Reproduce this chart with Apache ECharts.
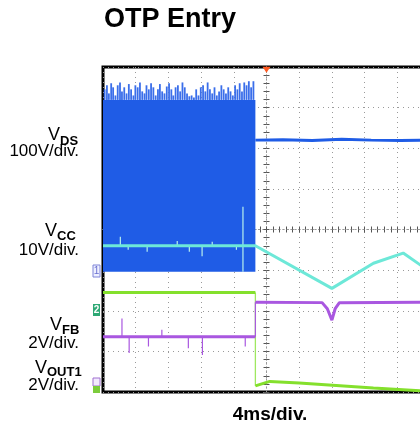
<!DOCTYPE html>
<html>
<head>
<meta charset="utf-8">
<script src="https://cdn.jsdelivr.net/npm/echarts@6/dist/echarts.min.js"></script>
<style>
html, body { margin: 0; padding: 0; background: #fff; }
#chart { width: 420px; height: 427px; }
</style>
</head>
<body>
<div id="chart"></div>
<script>
// x = time in divisions (4 ms/div), y = screen divisions counted from the bottom (8 div tall)
var vdsBlock = [[0, 4.66, 2.96, 7.19]]; // start, end, low, high of the switching burst
var vdsSpikeT = [0.05,0.12,0.18,0.25,0.31,0.38,0.45,0.52,0.58,0.65,0.72,0.79,0.86,0.93,0.99,1.06,1.13,1.20,1.27,1.33,
  1.40,1.47,1.54,1.61,1.68,1.74,1.81,1.88,1.95,2.02,2.09,2.15,2.22,2.29,2.36,2.43,2.50,2.57,2.64,2.71,
  2.78,2.85,2.92,2.99,3.06,3.13,3.20,3.27,3.34,3.41,3.48,3.55,3.62,3.69,3.76,3.83,3.90,3.97,4.04,4.11,
  4.18,4.25,4.32,4.39,4.46,4.53,4.60];
var vdsSpikeV = [7.45,7.55,7.35,7.6,7.5,7.3,7.55,7.62,7.4,7.5,7.35,7.58,7.45,7.3,7.55,7.5,7.62,7.4,7.35,7.55,
  7.45,7.6,7.5,7.3,7.45,7.58,7.4,7.35,7.52,7.6,7.45,7.3,7.5,7.55,7.4,7.62,7.5,7.35,7.28,7.3,
  7.25,7.45,7.3,7.5,7.55,7.4,7.62,7.45,7.35,7.5,7.3,7.4,7.55,7.45,7.35,7.5,7.4,7.3,7.55,7.45,
  7.6,7.4,7.62,7.55,7.65,7.5,7.65];
var vdsT = [4.66, 5.5, 6.4, 7.3, 8.2, 9.1, 10];
var vdsV = [6.2, 6.21, 6.19, 6.22, 6.2, 6.19, 6.2];

var vccT = [0, 4.66, 7.0, 8.27, 9.18, 9.7, 10];
var vccV = [3.6, 3.6, 2.55, 3.17, 3.42, 3.13, 2.96];
var vccSpikeT = [0.53, 0.77, 1.35, 2.27, 2.64, 3.03, 3.34, 4.08, 4.28];
var vccSpikeLo = [3.6, 3.6, 3.6, 3.6, 3.6, 3.6, 3.6, 3.6, 2.96];
var vccSpikeHi = [3.82, 3.5, 3.45, 3.72, 3.45, 3.34, 3.7, 3.5, 4.56];

// null = gap where the trace jumps; the jump itself is drawn thin below
var vfbT = [0, 4.66, 4.66, 4.66, 6.70, 6.86, 7.0, 7.1, 7.23, 10];
var vfbV = [1.36, 1.36, null, 2.21, 2.2, 2.05, 1.77, 2.05, 2.2, 2.21];
var vfbSpikeT = [0.58, 0.80, 1.39, 1.80, 2.61, 3.04, 4.35, 4.66];
var vfbSpikeLo = [1.36, 1.36, 1.36, 1.36, 1.36, 1.36, 1.36, 1.36];
var vfbSpikeHi = [1.81, 0.96, 1.12, 1.53, 1.08, 0.91, 1.12, 2.21];

var voutT = [0, 4.66, 4.66, 4.66, 5.1, 6.0, 8.27, 9.7, 10];
var voutV = [2.45, 2.45, null, 0.15, 0.26, 0.22, 0.1, 0.03, 0.02];
var voutEdgeT = [4.66];
var voutEdgeHi = [2.45];
var voutEdgeLo = [0.15];

var BLUE = '#1f5ce6', CYAN = '#6de8d8', GREEN = '#84e02c', PURPLE = '#a957e0';
var FONT = '"Liberation Sans", Arial, sans-serif';

function pairs(t, v) {
  return t.map(function (x, i) { return [x, v[i] === null ? '-' : v[i]]; });
}

function spikes(name, t, lo, hi, color, width) {
  return {
    name: name, type: 'custom', z: 4, silent: true,
    data: t.map(function (x, i) { return [x, lo[i], hi[i]]; }),
    encode: { x: 0, y: [1, 2] },
    renderItem: function (params, api) {
      var a = api.coord([api.value(0), api.value(1)]);
      var b = api.coord([api.value(0), api.value(2)]);
      return { type: 'line', shape: { x1: a[0], y1: a[1], x2: b[0], y2: b[1] },
        style: { stroke: color, lineWidth: width } };
    }
  };
}

function trace(name, t, v, color, z) {
  return {
    name: name, type: 'line', data: pairs(t, v), z: z, silent: true, connectNulls: false,
    symbol: 'none', lineStyle: { color: color, width: 3 }
  };
}

function centerAxis(dim, inside) {
  return {
    type: 'value', min: 0, max: dim === 'x' ? 10 : 8, interval: 1,
    position: dim === 'x' ? 'bottom' : 'left',
    offset: dim === 'x' ? -162.5 : -163.5,
    axisLine: { show: true, onZero: false, lineStyle: { color: '#999', width: 1, type: [1, 3] } },
    axisTick: { show: true, inside: inside, length: 3, lineStyle: { color: '#555' } },
    minorTick: { show: true, splitNumber: 5, length: 3, lineStyle: { color: '#555' } },
    axisLabel: { show: false }, splitLine: { show: false }
  };
}

var chart = echarts.init(document.getElementById('chart'));
var lowSpikes = vdsSpikeT.map(function () { return vdsBlock[0][3]; });

chart.setOption({
  animation: false,
  grid: { left: 103, top: 67, width: 327, height: 325, outerBoundsMode: 'none', containLabel: false,
    show: true, borderColor: '#000', borderWidth: 3 },
  xAxis: [
    { type: 'value', min: 0, max: 10, interval: 1,
      axisLine: { show: false }, axisTick: { show: false }, axisLabel: { show: false },
      splitLine: { show: true, lineStyle: { color: '#9a9a9a', type: [1, 4], width: 1 } } },
    centerAxis('x', false), centerAxis('x', true)
  ],
  yAxis: [
    { type: 'value', min: 0, max: 8, interval: 1,
      axisLine: { show: false }, axisTick: { show: false }, axisLabel: { show: false },
      splitLine: { show: true, lineStyle: { color: '#9a9a9a', type: [1, 4], width: 1 } } },
    centerAxis('y', false), centerAxis('y', true)
  ],
  series: [
    {
      name: 'VDS burst', type: 'custom', z: 2, silent: true, data: vdsBlock,
      encode: { x: [0, 1], y: [2, 3] },
      renderItem: function (params, api) {
        var p0 = api.coord([api.value(0), api.value(3)]);
        var p1 = api.coord([api.value(1), api.value(2)]);
        return { type: 'rect', shape: { x: p0[0], y: p0[1], width: p1[0] - p0[0], height: p1[1] - p0[1] },
          style: { fill: BLUE } };
      }
    },
    spikes('VDS spikes', vdsSpikeT, lowSpikes, vdsSpikeV, '#3a6eea', 1.8),
    Object.assign(trace('VDS', vdsT, vdsV, BLUE, 3), {
      markPoint: {
        symbol: 'triangle', symbolRotate: 180, symbolSize: [8, 6],
        itemStyle: { color: '#ff5a22' }, label: { show: false },
        data: [{ coord: [5, 7.93] }]
      }
    }),
    trace('VCC', vccT, vccV, CYAN, 6),
    spikes('VCC spikes', vccSpikeT, vccSpikeLo, vccSpikeHi, '#b8f0ec', 1.2),
    trace('VOUT1', voutT, voutV, GREEN, 5),
    spikes('VOUT1 edge', voutEdgeT, voutEdgeLo, voutEdgeHi, '#9fe860', 1.3),
    trace('VFB', vfbT, vfbV, PURPLE, 5),
    spikes('VFB spikes', vfbSpikeT, vfbSpikeLo, vfbSpikeHi, PURPLE, 1.2)
  ],
  graphic: [
    { type: 'text', x: 104, y: 20, style: { text: 'OTP Entry', font: 'bold 27px ' + FONT, fill: '#000', verticalAlign: 'middle' } },
    { type: 'text', x: 270, y: 415, style: { text: '4ms/div.', font: 'bold 19px ' + FONT, fill: '#000', align: 'center', verticalAlign: 'middle' } },

    { type: 'text', x: 60, y: 135, style: { text: 'V', font: '18px ' + FONT, fill: '#000', align: 'right', verticalAlign: 'middle' } },
    { type: 'text', x: 60, y: 141, style: { text: 'DS', font: 'bold 13px ' + FONT, fill: '#000', align: 'left', verticalAlign: 'middle' } },
    { type: 'text', x: 79, y: 151, style: { text: '100V/div.', font: '17px ' + FONT, fill: '#000', align: 'right', verticalAlign: 'middle' } },

    { type: 'text', x: 57, y: 231, style: { text: 'V', font: '18px ' + FONT, fill: '#000', align: 'right', verticalAlign: 'middle' } },
    { type: 'text', x: 57, y: 236, style: { text: 'CC', font: 'bold 13px ' + FONT, fill: '#000', align: 'left', verticalAlign: 'middle' } },
    { type: 'text', x: 79, y: 250, style: { text: '10V/div.', font: '17px ' + FONT, fill: '#000', align: 'right', verticalAlign: 'middle' } },

    { type: 'text', x: 62, y: 325, style: { text: 'V', font: '18px ' + FONT, fill: '#000', align: 'right', verticalAlign: 'middle' } },
    { type: 'text', x: 62, y: 330, style: { text: 'FB', font: 'bold 13px ' + FONT, fill: '#000', align: 'left', verticalAlign: 'middle' } },
    { type: 'text', x: 79, y: 343, style: { text: '2V/div.', font: '17px ' + FONT, fill: '#000', align: 'right', verticalAlign: 'middle' } },

    { type: 'text', x: 47, y: 368, style: { text: 'V', font: '18px ' + FONT, fill: '#000', align: 'right', verticalAlign: 'middle' } },
    { type: 'text', x: 47, y: 372, style: { text: 'OUT1', font: 'bold 13px ' + FONT, fill: '#000', align: 'left', verticalAlign: 'middle' } },
    { type: 'text', x: 79, y: 385, style: { text: '2V/div.', font: '17px ' + FONT, fill: '#000', align: 'right', verticalAlign: 'middle' } },

    { type: 'rect', shape: { x: 93, y: 265, width: 7, height: 12 }, style: { fill: '#eef0ff', stroke: '#7f84d8', lineWidth: 1 } },
    { type: 'text', x: 96.5, y: 271, style: { text: '1', font: '10px ' + FONT, fill: '#6a6fd0', align: 'center', verticalAlign: 'middle' } },
    { type: 'rect', shape: { x: 93, y: 304, width: 7, height: 12 }, style: { fill: '#2ea874' } },
    { type: 'text', x: 96.5, y: 310, style: { text: '2', font: 'bold 10px ' + FONT, fill: '#fff', align: 'center', verticalAlign: 'middle' } },
    { type: 'rect', shape: { x: 93, y: 378, width: 7, height: 8 }, style: { fill: '#f3eaff', stroke: '#a070d0', lineWidth: 1 } },
    { type: 'rect', shape: { x: 93, y: 386, width: 7, height: 7 }, style: { fill: '#7ccc3c' } }
  ]
});
</script>
</body>
</html>
